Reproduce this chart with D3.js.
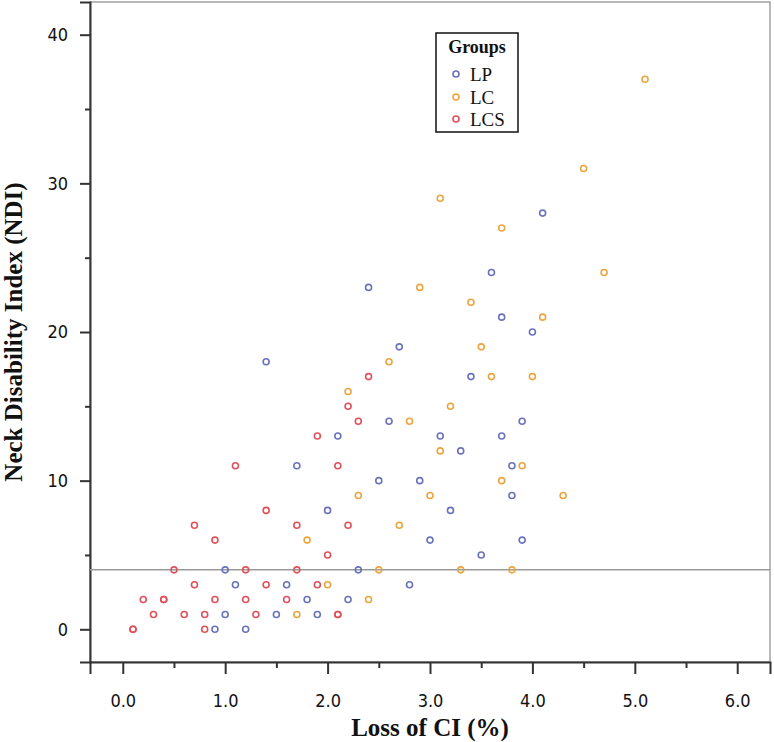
<!DOCTYPE html>
<html>
<head>
<meta charset="utf-8">
<script src="https://cdn.jsdelivr.net/npm/d3@7"></script>
<style>
  html, body { margin: 0; padding: 0; background: #fff; }
  svg { display: block; }
</style>
</head>
<body>
<svg id="chart" width="774" height="742"></svg>
<script>
// ---- data (Loss of CI %, NDI) ----
const groups = ["LP", "LC", "LCS"];
const lpX = [0.9,1.2,1.0,1.5,1.9,1.8,2.2,1.1,1.6,2.8,1.0,2.3,3.5,3.0,3.9,2.0,3.2,3.8,2.5,2.9,1.7,3.8,3.3,2.1,3.1,3.7,2.6,3.9,3.4,1.4,2.7,4.0,3.7,2.4,3.6,4.1];
const lpY = [0,0,1,1,1,2,2,3,3,3,4,4,5,6,6,8,8,9,10,10,11,11,12,13,13,13,14,14,17,18,19,20,21,23,24,28];
const lcX = [1.7,2.4,2.0,2.5,3.3,3.8,1.8,2.7,2.3,3.0,4.3,3.7,3.9,3.1,2.8,3.2,2.2,3.6,4.0,2.6,3.5,4.1,3.4,2.9,4.7,3.7,3.1,4.5,5.1];
const lcY = [1,2,3,4,4,4,6,7,9,9,9,10,11,12,14,15,16,17,17,18,19,21,22,23,24,27,29,31,37];
const lcsX = [0.1,0.1,0.8,0.3,0.6,0.8,1.3,2.1,2.1,0.2,0.4,0.4,0.9,1.2,1.6,0.7,1.4,1.9,0.5,1.2,1.7,2.0,0.9,0.7,1.7,2.2,1.4,1.1,2.1,1.9,2.3,2.2,2.4];
const lcsY = [0,0,0,1,1,1,1,1,1,2,2,2,2,2,2,3,3,3,4,4,4,5,6,7,7,7,8,11,11,13,14,15,17];
const xTickValues = [0,1,2,3,4,5,6];
const xMinorValues = [0.5,1.5,2.5,3.5,4.5,5.5];
const yTickValues = [0,10,20,30,40];
const yMinorValues = [5,15,25,35];
const refLineValue = 4;
const colors = {LP: "#6a72bb", LC: "#eea43c", LCS: "#e2505a"};

const series = [
  {name: "LP", xs: lpX, ys: lpY},
  {name: "LC", xs: lcX, ys: lcY},
  {name: "LCS", xs: lcsX, ys: lcsY}
];

const svg = d3.select("#chart");
const L = 90, R = 770, T = 2, B = 662;

const x = d3.scaleLinear().domain([-0.32, 6.32]).range([L, R]);
const y = d3.scaleLinear().domain([-2.2, 42.2]).range([B, T]);

// frame
svg.append("rect").attr("x", L).attr("y", T).attr("width", R - L).attr("height", B - T)
  .attr("fill", "none").attr("stroke", "#8a8a8a").attr("stroke-width", 1.2);

const tickFont = "'Liberation Sans Narrow', 'DejaVu Sans Condensed', 'Liberation Sans', Arial, sans-serif";

// x axis
const gx = svg.append("g").attr("transform", `translate(0,${B})`)
  .call(d3.axisBottom(x).tickValues(xTickValues).tickFormat(d3.format(".1f")).tickSize(12).tickPadding(20));
const gxm = svg.append("g").attr("transform", `translate(0,${B})`)
  .call(d3.axisBottom(x).tickValues(xMinorValues).tickFormat("").tickSize(6));
// y axis
const gy = svg.append("g").attr("transform", `translate(${L},0)`)
  .call(d3.axisLeft(y).tickValues(yTickValues).tickFormat(d3.format("d")).tickSize(10).tickPadding(12));
const gym = svg.append("g").attr("transform", `translate(${L},0)`)
  .call(d3.axisLeft(y).tickValues(yMinorValues).tickFormat("").tickSize(5));

[gx, gxm, gy, gym].forEach(g => {
  g.select(".domain").attr("stroke", "#333").attr("stroke-width", 2);
  g.selectAll(".tick line").attr("stroke", "#333").attr("stroke-width", 2);
  g.selectAll(".tick text").attr("fill", "#111").style("font-family", tickFont).style("font-size", "18px");
});
gxm.select(".domain").remove();
gym.select(".domain").remove();

// reference line
svg.append("line").attr("x1", L).attr("x2", R).attr("y1", y(refLineValue)).attr("y2", y(refLineValue))
  .attr("stroke", "#9a9a9a").attr("stroke-width", 1.5);

// points
series.forEach(s => {
  svg.append("g").selectAll("circle").data(s.xs.map((v, i) => [v, s.ys[i]])).join("circle")
    .attr("cx", d => x(d[0])).attr("cy", d => y(d[1])).attr("r", 3)
    .attr("fill", "none").attr("stroke", colors[s.name]).attr("stroke-width", 1.6);
});

// axis titles
const serif = "'Liberation Serif', 'Times New Roman', serif";
svg.append("text").attr("x", (L + R) / 2).attr("y", 736)
  .attr("text-anchor", "middle").style("font-family", serif).style("font-weight", "bold")
  .style("font-size", "25px").attr("fill", "#111").text("Loss of CI (%)");
svg.append("text").attr("transform", `translate(22,${(T + B) / 2}) rotate(-90)`)
  .attr("text-anchor", "middle").style("font-family", serif).style("font-weight", "bold")
  .style("font-size", "25px").attr("fill", "#111").text("Neck Disability Index (NDI)");

// legend
const lg = svg.append("g");
lg.append("rect").attr("x", 436).attr("y", 33).attr("width", 82).attr("height", 99)
  .attr("fill", "#fff").attr("stroke", "#111").attr("stroke-width", 1.5);
lg.append("text").attr("x", 477).attr("y", 53).attr("text-anchor", "middle")
  .style("font-family", serif).style("font-weight", "bold").style("font-size", "18px")
  .attr("fill", "#111").text("Groups");
const legendRows = [74, 97, 119];
groups.forEach((g, i) => {
  lg.append("circle").attr("cx", 456).attr("cy", legendRows[i]).attr("r", 3)
    .attr("fill", "none").attr("stroke", colors[g]).attr("stroke-width", 1.6);
  lg.append("text").attr("x", 470).attr("y", legendRows[i]).attr("dy", "0.35em")
    .style("font-family", serif).style("font-size", "19px").attr("fill", "#111").text(g);
});
</script>
</body>
</html>
